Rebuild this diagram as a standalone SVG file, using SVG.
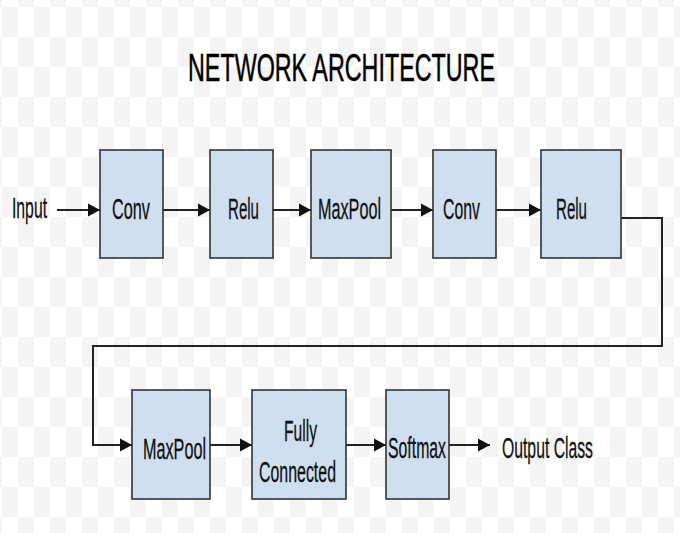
<svg xmlns="http://www.w3.org/2000/svg" width="680" height="533" viewBox="0 0 680 533">
  <defs>
    <pattern id="checker" x="2" y="7" width="32" height="60" patternUnits="userSpaceOnUse">
      <rect x="0" y="0" width="32" height="60" fill="#ffffff"/>
      <rect x="0" y="0" width="16" height="30" fill="#f4f4f4"/>
      <rect x="16" y="30" width="16" height="30" fill="#f4f4f4"/>
    </pattern>
    <marker id="arrow" markerUnits="userSpaceOnUse" markerWidth="13" markerHeight="14" refX="12" refY="7" orient="auto">
      <path d="M0,0.5 L12,7 L0,13.5 Z" fill="#111"/>
    </marker>
    <style>
      .box { fill: #cfdff0; stroke: #333; stroke-width: 1.6; }
      .lbl { font-family: "Liberation Sans", Arial, sans-serif; font-size: 29px; fill: #111; stroke: #111; stroke-width: 0.3; }
      .title { font-family: "Liberation Sans", Arial, sans-serif; font-size: 38px; fill: #000; stroke: #000; stroke-width: 0.5; }
      .wire { fill: none; stroke: #222; stroke-width: 2; }
    </style>
  </defs>

  <rect width="680" height="533" fill="url(#checker)"/>

  <text class="title" x="188" y="81" textLength="307" lengthAdjust="spacingAndGlyphs">NETWORK ARCHITECTURE</text>

  <g id="connectors">
    <line class="wire" x1="57" y1="210" x2="100" y2="210" marker-end="url(#arrow)"/>
    <line class="wire" x1="163" y1="210" x2="210" y2="210" marker-end="url(#arrow)"/>
    <line class="wire" x1="273" y1="210" x2="311" y2="210" marker-end="url(#arrow)"/>
    <line class="wire" x1="391" y1="210" x2="433" y2="210" marker-end="url(#arrow)"/>
    <line class="wire" x1="496" y1="210" x2="541" y2="210" marker-end="url(#arrow)"/>
    <polyline class="wire" points="621,218 662,218 662,346 93,346 93,445 132,445" marker-end="url(#arrow)"/>
    <line class="wire" x1="210" y1="445" x2="252" y2="445" marker-end="url(#arrow)"/>
    <line class="wire" x1="346" y1="445" x2="386" y2="445" marker-end="url(#arrow)"/>
    <line class="wire" x1="449" y1="445" x2="490" y2="445" marker-end="url(#arrow)"/>
  </g>

  <g id="input">
    <text class="lbl" x="12" y="218" textLength="35" lengthAdjust="spacingAndGlyphs">Input</text>
  </g>
  <g id="conv1">
    <rect class="box" x="100" y="150" width="63" height="108"/>
    <text class="lbl" x="112" y="219" textLength="38" lengthAdjust="spacingAndGlyphs">Conv</text>
  </g>
  <g id="relu1">
    <rect class="box" x="210" y="150" width="63" height="108"/>
    <text class="lbl" x="228" y="219" textLength="31" lengthAdjust="spacingAndGlyphs">Relu</text>
  </g>
  <g id="maxpool1">
    <rect class="box" x="311" y="150" width="80" height="108"/>
    <text class="lbl" x="318" y="219" textLength="63" lengthAdjust="spacingAndGlyphs">MaxPool</text>
  </g>
  <g id="conv2">
    <rect class="box" x="433" y="150" width="63" height="108"/>
    <text class="lbl" x="443" y="219" textLength="37" lengthAdjust="spacingAndGlyphs">Conv</text>
  </g>
  <g id="relu2">
    <rect class="box" x="541" y="150" width="80" height="108"/>
    <text class="lbl" x="556" y="219" textLength="31" lengthAdjust="spacingAndGlyphs">Relu</text>
  </g>
  <g id="maxpool2">
    <rect class="box" x="132" y="390" width="78" height="109"/>
    <text class="lbl" x="143" y="459" textLength="63" lengthAdjust="spacingAndGlyphs">MaxPool</text>
  </g>
  <g id="fully-connected">
    <rect class="box" x="252" y="390" width="94" height="109"/>
    <text class="lbl" x="284" y="441" textLength="33" lengthAdjust="spacingAndGlyphs">Fully</text>
    <text class="lbl" x="259" y="482" textLength="77" lengthAdjust="spacingAndGlyphs">Connected</text>
  </g>
  <g id="softmax">
    <rect class="box" x="386" y="390" width="63" height="109"/>
    <text class="lbl" x="388" y="458" textLength="58" lengthAdjust="spacingAndGlyphs">Softmax</text>
  </g>
  <g id="output">
    <text class="lbl" x="502" y="458" textLength="91" lengthAdjust="spacingAndGlyphs">Output Class</text>
  </g>
</svg>
